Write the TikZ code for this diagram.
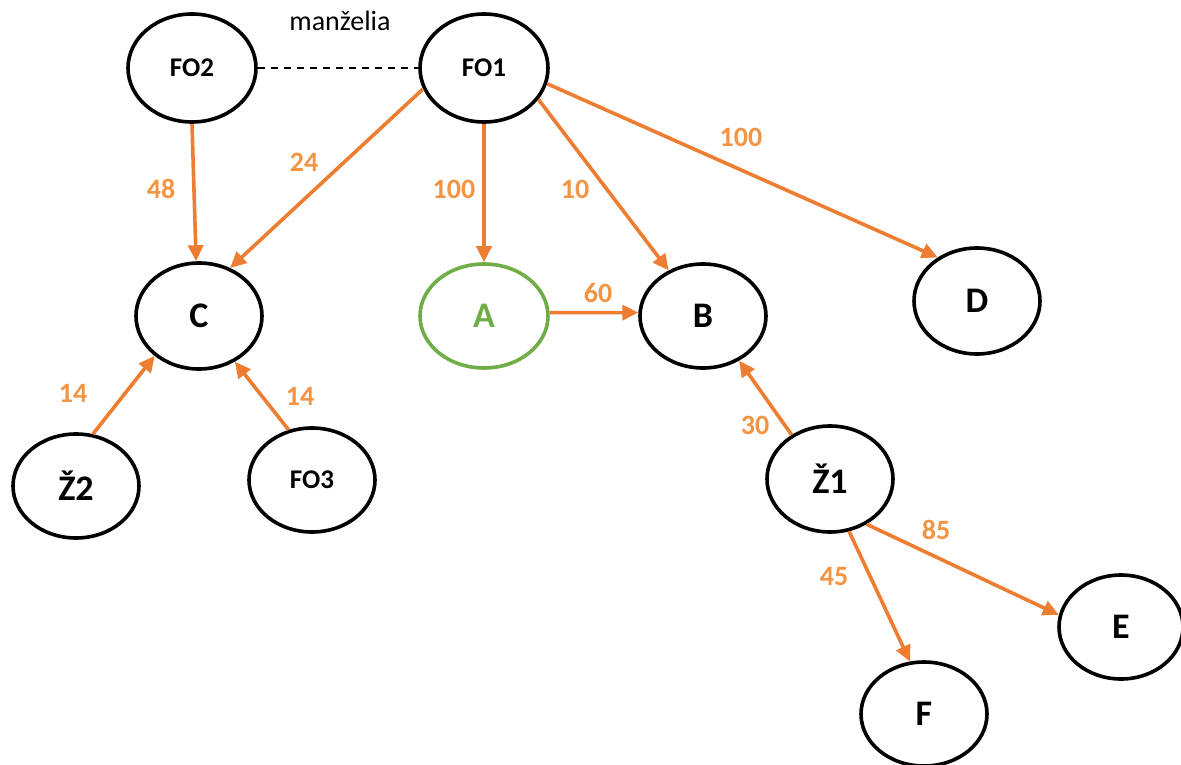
\documentclass[tikz,border=0pt]{standalone}
\usepackage{fontspec}
\setmainfont{Carlito}
\usetikzlibrary{arrows.meta,shapes.geometric}
\definecolor{arr}{HTML}{ED7D31}
\definecolor{lab}{HTML}{F39443}
\definecolor{grn}{HTML}{70AD47}
\tikzset{
  ell/.style={draw=black, line width=3.6pt, ellipse, inner sep=0pt, minimum width=#1, minimum height=106pt, font=\bfseries\fontsize{36}{38}\selectfont},
  ell/.default=126pt,
  small/.style={font=\bfseries\fontsize{27}{29}\selectfont},
  arrow/.style={draw=arr, line width=3.6pt, -{Triangle[length=16pt,width=15pt]}},
  lbl/.style={text=lab, font=\bfseries\fontsize{28}{30}\selectfont},
}
\begin{document}
\begin{tikzpicture}[x=1pt,y=-1pt]
\useasboundingbox (0,0) rectangle (1181,765);
\node[ell=128pt, small, minimum height=108pt] (FO2) at (192,68) {FO2};
\node[ell=128pt, small, minimum height=108pt] (FO1) at (484,68) {FO1};
\node[ell] (C) at (199,316) {C};
\node[ell=128pt, draw=grn, text=grn, minimum height=104pt] (A) at (484,316) {A};
\node[ell, minimum height=104pt] (B) at (703,316) {B};
\node[ell] (D) at (977,301) {D};
\node[ell, minimum height=104pt] (Z2) at (76,486) {Ž2};
\node[ell, small, minimum height=104pt] (FO3) at (312,480) {FO3};
\node[ell] (Z1) at (830,479) {Ž1};
\node[ell=124pt, minimum height=104pt] (E) at (1121,627) {E};
\node[ell, minimum height=104pt] (F) at (924,714) {F};

\node[font=\fontsize{28}{30}\selectfont] (mz) at (340,21) {manželia};
\draw[black, line width=2.5pt, dash pattern=on 7pt off 6pt] (FO2.east) -- (FO1.west);

\draw[arrow] (FO2.-90) -- (C.93);
\draw[arrow] (FO1.-161) -- (C.57);
\draw[arrow] (FO1.-90) -- (A.90);
\draw[arrow] (FO1.-30) -- (B.127);
\draw[arrow] (FO1.-14.5) -- (D.132);
\draw[arrow] (A.3) -- (B.177);
\draw[arrow] (Z2.72) -- (C.-138);
\draw[arrow] (FO3.115) -- (C.-52);
\draw[arrow] (Z1.131) -- (B.-51);
\draw[arrow] (Z1.-51) -- (E.169);
\draw[arrow] (Z1.-70) -- (F.105);

\node[lbl] (l1) at (161,189) {48};
\node[lbl] (l2) at (304,162) {24};
\node[lbl] (l3) at (454,189) {100};
\node[lbl] (l4) at (575,189) {10};
\node[lbl] (l5) at (741,137) {100};
\node[lbl] (l6) at (598,293) {60};
\node[lbl] (l7) at (73,393) {14};
\node[lbl] (l8) at (300,396) {14};
\node[lbl] (l9) at (755,425) {30};
\node[lbl] (l10) at (936,530) {85};
\node[lbl] (l11) at (834,577) {45};
\end{tikzpicture}
\end{document}
